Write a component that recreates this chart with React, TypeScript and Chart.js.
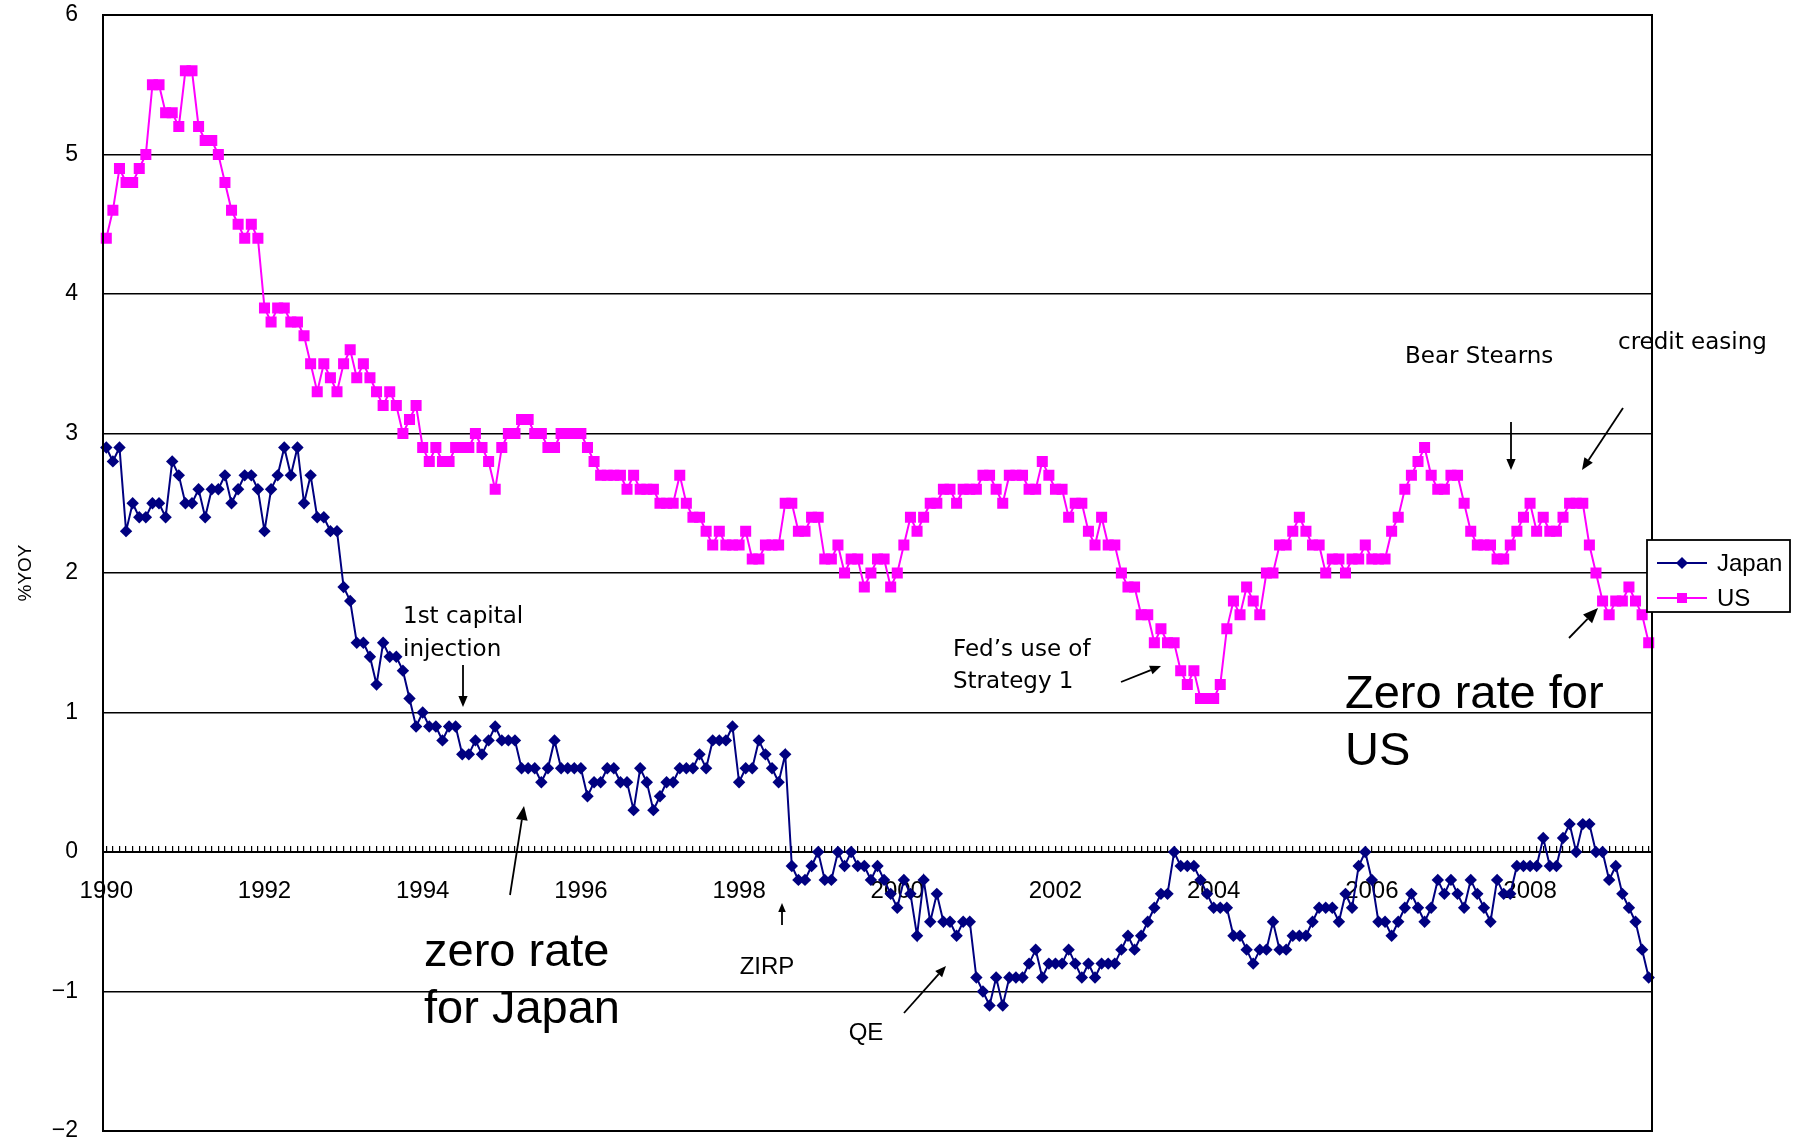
import React, { useEffect, useRef } from 'react';
import { Chart, registerables } from 'chart.js';

Chart.register(...registerables);

// ---- data ---------------------------------------------------------------
const START_YEAR = 1990;
const MONTH_COUNT = 235; // Jan 1990 .. Jul 2009
const months: string[] = Array.from({ length: MONTH_COUNT }, (_, i) =>
  `${START_YEAR + Math.floor(i / 12)}-${String((i % 12) + 1).padStart(2, '0')}`
);

const yearTicks = ['1990', '1992', '1994', '1996', '1998', '2000', '2002', '2004', '2006', '2008'];

const japan = [
  2.9, 2.8, 2.9, 2.3, 2.5, 2.4, 2.4, 2.5, 2.5, 2.4, 2.8, 2.7,
  2.5, 2.5, 2.6, 2.4, 2.6, 2.6, 2.7, 2.5, 2.6, 2.7, 2.7, 2.6,
  2.3, 2.6, 2.7, 2.9, 2.7, 2.9, 2.5, 2.7, 2.4, 2.4, 2.3, 2.3,
  1.9, 1.8, 1.5, 1.5, 1.4, 1.2, 1.5, 1.4, 1.4, 1.3, 1.1, 0.9,
  1.0, 0.9, 0.9, 0.8, 0.9, 0.9, 0.7, 0.7, 0.8, 0.7, 0.8, 0.9,
  0.8, 0.8, 0.8, 0.6, 0.6, 0.6, 0.5, 0.6, 0.8, 0.6, 0.6, 0.6,
  0.6, 0.4, 0.5, 0.5, 0.6, 0.6, 0.5, 0.5, 0.3, 0.6, 0.5, 0.3,
  0.4, 0.5, 0.5, 0.6, 0.6, 0.6, 0.7, 0.6, 0.8, 0.8, 0.8, 0.9,
  0.5, 0.6, 0.6, 0.8, 0.7, 0.6, 0.5, 0.7, -0.1, -0.2, -0.2, -0.1,
  0.0, -0.2, -0.2, 0.0, -0.1, 0.0, -0.1, -0.1, -0.2, -0.1, -0.2, -0.3,
  -0.4, -0.2, -0.3, -0.6, -0.2, -0.5, -0.3, -0.5, -0.5, -0.6, -0.5, -0.5,
  -0.9, -1.0, -1.1, -0.9, -1.1, -0.9, -0.9, -0.9, -0.8, -0.7, -0.9, -0.8,
  -0.8, -0.8, -0.7, -0.8, -0.9, -0.8, -0.9, -0.8, -0.8, -0.8, -0.7, -0.6,
  -0.7, -0.6, -0.5, -0.4, -0.3, -0.3, 0.0, -0.1, -0.1, -0.1, -0.2, -0.3,
  -0.4, -0.4, -0.4, -0.6, -0.6, -0.7, -0.8, -0.7, -0.7, -0.5, -0.7, -0.7,
  -0.6, -0.6, -0.6, -0.5, -0.4, -0.4, -0.4, -0.5, -0.3, -0.4, -0.1, 0.0,
  -0.2, -0.5, -0.5, -0.6, -0.5, -0.4, -0.3, -0.4, -0.5, -0.4, -0.2, -0.3,
  -0.2, -0.3, -0.4, -0.2, -0.3, -0.4, -0.5, -0.2, -0.3, -0.3, -0.1, -0.1,
  -0.1, -0.1, 0.1, -0.1, -0.1, 0.1, 0.2, 0.0, 0.2, 0.2, 0.0, 0.0,
  -0.2, -0.1, -0.3, -0.4, -0.5, -0.7, -0.9,
];

const us = [
  4.4, 4.6, 4.9, 4.8, 4.8, 4.9, 5.0, 5.5, 5.5, 5.3, 5.3, 5.2,
  5.6, 5.6, 5.2, 5.1, 5.1, 5.0, 4.8, 4.6, 4.5, 4.4, 4.5, 4.4,
  3.9, 3.8, 3.9, 3.9, 3.8, 3.8, 3.7, 3.5, 3.3, 3.5, 3.4, 3.3,
  3.5, 3.6, 3.4, 3.5, 3.4, 3.3, 3.2, 3.3, 3.2, 3.0, 3.1, 3.2,
  2.9, 2.8, 2.9, 2.8, 2.8, 2.9, 2.9, 2.9, 3.0, 2.9, 2.8, 2.6,
  2.9, 3.0, 3.0, 3.1, 3.1, 3.0, 3.0, 2.9, 2.9, 3.0, 3.0, 3.0,
  3.0, 2.9, 2.8, 2.7, 2.7, 2.7, 2.7, 2.6, 2.7, 2.6, 2.6, 2.6,
  2.5, 2.5, 2.5, 2.7, 2.5, 2.4, 2.4, 2.3, 2.2, 2.3, 2.2, 2.2,
  2.2, 2.3, 2.1, 2.1, 2.2, 2.2, 2.2, 2.5, 2.5, 2.3, 2.3, 2.4,
  2.4, 2.1, 2.1, 2.2, 2.0, 2.1, 2.1, 1.9, 2.0, 2.1, 2.1, 1.9,
  2.0, 2.2, 2.4, 2.3, 2.4, 2.5, 2.5, 2.6, 2.6, 2.5, 2.6, 2.6,
  2.6, 2.7, 2.7, 2.6, 2.5, 2.7, 2.7, 2.7, 2.6, 2.6, 2.8, 2.7,
  2.6, 2.6, 2.4, 2.5, 2.5, 2.3, 2.2, 2.4, 2.2, 2.2, 2.0, 1.9,
  1.9, 1.7, 1.7, 1.5, 1.6, 1.5, 1.5, 1.3, 1.2, 1.3, 1.1, 1.1,
  1.1, 1.2, 1.6, 1.8, 1.7, 1.9, 1.8, 1.7, 2.0, 2.0, 2.2, 2.2,
  2.3, 2.4, 2.3, 2.2, 2.2, 2.0, 2.1, 2.1, 2.0, 2.1, 2.1, 2.2,
  2.1, 2.1, 2.1, 2.3, 2.4, 2.6, 2.7, 2.8, 2.9, 2.7, 2.6, 2.6,
  2.7, 2.7, 2.5, 2.3, 2.2, 2.2, 2.2, 2.1, 2.1, 2.2, 2.3, 2.4,
  2.5, 2.3, 2.4, 2.3, 2.3, 2.4, 2.5, 2.5, 2.5, 2.2, 2.0, 1.8,
  1.7, 1.8, 1.8, 1.9, 1.8, 1.7, 1.5,
];

const seriesNames = ['Japan', 'US'];
const seriesColors = ['#000080', '#FF00FF'];

// annotation texts (pixel placed)
const smallFont = '23px "DejaVu Sans", sans-serif';
const bigFont = '47px "Liberation Sans", Arial, sans-serif';
const midFont = '24px "Liberation Sans", Arial, sans-serif';

const notes: { lines: string[]; x: number; y: number; lh: number; font: string; align: CanvasTextAlign }[] = [
  { lines: ['1st capital', 'injection'], x: 403, y: 617, lh: 33, font: smallFont, align: 'left' },
  { lines: ['zero rate', 'for Japan'], x: 424, y: 953, lh: 57, font: bigFont, align: 'left' },
  { lines: ['ZIRP'], x: 767, y: 967, lh: 0, font: midFont, align: 'center' },
  { lines: ['QE'], x: 866, y: 1033, lh: 0, font: midFont, align: 'center' },
  { lines: ['Fed\u2019s use of', 'Strategy 1'], x: 953, y: 650, lh: 32, font: smallFont, align: 'left' },
  { lines: ['Zero rate for', 'US'], x: 1345, y: 695, lh: 57, font: bigFont, align: 'left' },
  { lines: ['Bear Stearns'], x: 1405, y: 357, lh: 0, font: smallFont, align: 'left' },
  { lines: ['credit easing'], x: 1618, y: 343, lh: 0, font: smallFont, align: 'left' },
];

const arrows: [number, number, number, number, number][] = [
  [463, 665, 463, 707, 11],
  [510, 895, 524, 806, 14],
  [782, 925, 782, 903, 9],
  [904, 1013, 946, 966, 11],
  [1121, 682, 1161, 666, 11],
  [1511, 422, 1511, 470, 11],
  [1623, 408, 1582, 470, 12],
  [1569, 638, 1598, 608, 15],
];

function drawArrow(ctx: CanvasRenderingContext2D, x1: number, y1: number, x2: number, y2: number, head: number) {
  const ang = Math.atan2(y2 - y1, x2 - x1);
  const bx = x2 - head * Math.cos(ang);
  const by = y2 - head * Math.sin(ang);
  const hw = head * 0.42;
  ctx.lineWidth = 1.8;
  ctx.beginPath();
  ctx.moveTo(x1, y1);
  ctx.lineTo(bx, by);
  ctx.stroke();
  ctx.beginPath();
  ctx.moveTo(x2, y2);
  ctx.lineTo(bx + hw * Math.sin(ang), by - hw * Math.cos(ang));
  ctx.lineTo(bx - hw * Math.sin(ang), by + hw * Math.cos(ang));
  ctx.closePath();
  ctx.fill();
}

const decorPlugin = {
  id: 'decor',
  afterDraw(chart: any) {
    const { ctx, chartArea: a } = chart;
    ctx.save();
    // plot frame
    ctx.strokeStyle = '#000';
    ctx.lineWidth = 2;
    ctx.strokeRect(a.left, a.top, a.right - a.left, a.bottom - a.top);

    // legend
    const lx = 1647, ly = 540, lw = 143, lh = 72;
    ctx.fillStyle = '#fff';
    ctx.fillRect(lx, ly, lw, lh);
    ctx.lineWidth = 1.8;
    ctx.strokeRect(lx, ly, lw, lh);
    chart.data.datasets.forEach((ds: any, i: number) => {
      const cy = ly + 23 + i * 35;
      ctx.strokeStyle = ds.borderColor;
      ctx.fillStyle = ds.borderColor;
      ctx.lineWidth = 2;
      ctx.beginPath();
      ctx.moveTo(lx + 10, cy);
      ctx.lineTo(lx + 60, cy);
      ctx.stroke();
      ctx.beginPath();
      if (ds.pointStyle === 'rectRot') {
        const r = 6;
        ctx.moveTo(lx + 35, cy - r);
        ctx.lineTo(lx + 35 + r, cy);
        ctx.lineTo(lx + 35, cy + r);
        ctx.lineTo(lx + 35 - r, cy);
        ctx.closePath();
      } else {
        ctx.rect(lx + 35 - 5, cy - 5, 10, 10);
      }
      ctx.fill();
      ctx.fillStyle = '#000';
      ctx.font = '24px "Liberation Sans", Arial, sans-serif';
      ctx.textAlign = 'left';
      ctx.textBaseline = 'middle';
      ctx.fillText(ds.label, lx + 70, cy + 1);
    });

    // annotation texts
    ctx.fillStyle = '#000';
    ctx.strokeStyle = '#000';
    ctx.textBaseline = 'middle';
    notes.forEach((n) => {
      ctx.font = n.font;
      ctx.textAlign = n.align;
      n.lines.forEach((t, k) => ctx.fillText(t, n.x, n.y + k * n.lh));
    });
    arrows.forEach(([x1, y1, x2, y2, h]) => drawArrow(ctx, x1, y1, x2, y2, h));
    ctx.restore();
  },
};

export default function App() {
  const ref = useRef<HTMLCanvasElement | null>(null);

  useEffect(() => {
    if (!ref.current) return;
    const chart = new Chart(ref.current, {
      type: 'line',
      data: {
        labels: months,
        datasets: [
          {
            label: seriesNames[0],
            data: japan,
            borderColor: seriesColors[0],
            backgroundColor: seriesColors[0],
            borderWidth: 2,
            pointStyle: 'rectRot',
            pointRadius: 6.2,
            pointBorderWidth: 0,
            tension: 0,
          },
          {
            label: seriesNames[1],
            data: us,
            borderColor: seriesColors[1],
            backgroundColor: seriesColors[1],
            borderWidth: 2,
            pointStyle: 'rect',
            pointRadius: 7.8,
            pointBorderWidth: 0,
            tension: 0,
          },
        ],
      },
      options: {
        animation: false,
        responsive: true,
        maintainAspectRatio: false,
        layout: { autoPadding: false, padding: { left: 0, right: 148, top: 15, bottom: 14 } },
        plugins: {
          legend: { display: false },
          tooltip: { enabled: false },
        },
        scales: {
          x: {
            type: 'category',
            offset: true,
            position: { y: 0 } as any,
            border: { display: true, color: '#000', width: 2 },
            grid: {
              display: true,
              drawOnChartArea: false,
              drawTicks: true,
              tickLength: -7,
              color: '#000',
              lineWidth: 1.2,
            },
            ticks: {
              autoSkip: false,
              maxRotation: 0,
              minRotation: 0,
              padding: 32,
              color: '#000',
              font: { family: '"Liberation Sans", Arial, sans-serif', size: 24 },
              callback: (_v: any, idx: number) => {
                const m = months[idx];
                const y = m.slice(0, 4);
                return m.endsWith('-01') && yearTicks.includes(y) ? y : '';
              },
            },
          },
          y: {
            min: -2,
            max: 6,
            afterFit: (scale: any) => {
              scale.width = 103;
            },
            border: { display: true, color: '#000', width: 2 },
            grid: {
              color: '#000',
              lineWidth: 1.6,
              drawTicks: true,
              tickLength: 25,
              tickColor: 'rgba(0,0,0,0)',
            },
            ticks: {
              stepSize: 1,
              padding: 0,
              color: '#000',
              font: { family: '"Liberation Sans", Arial, sans-serif', size: 23 },
              callback: (v: any) => (Number(v) < 0 ? '\u2212' + Math.abs(Number(v)) : String(v)),
            },
            title: {
              display: true,
              text: '%YOY',
              color: '#000',
              font: { family: '"Liberation Sans", Arial, sans-serif', size: 19 },
              padding: { top: 14, bottom: 0 },
            },
          },
        },
      },
      plugins: [decorPlugin],
    });
    return () => chart.destroy();
  }, []);

  return (
    <div style={{ position: 'fixed', left: 0, top: 0, width: 1800, height: 1145, background: '#fff' }}>
      <canvas ref={ref} />
    </div>
  );
}
